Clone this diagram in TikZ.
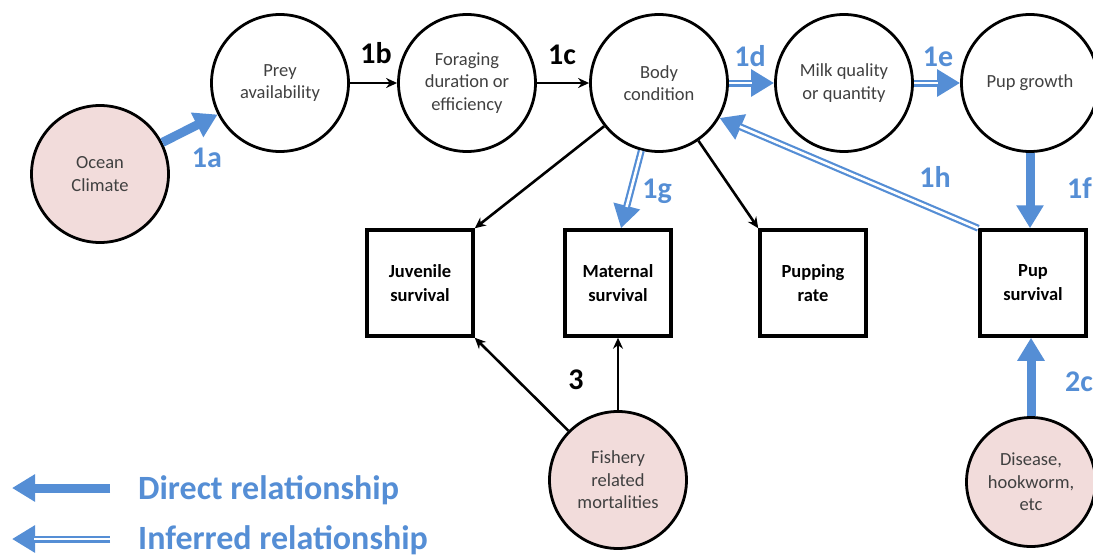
\documentclass[tikz,border=0pt]{standalone}
\usepackage{fontspec}
\setmainfont{Carlito}
\usetikzlibrary{arrows.meta}
\definecolor{myblue}{RGB}{85,142,213}
\definecolor{pinkfill}{RGB}{242,220,219}
\definecolor{txtgray}{RGB}{64,64,64}
\begin{document}
\begin{tikzpicture}[x=1pt,y=-1pt,
  circ/.style={circle, draw=black, line width=2.8pt, minimum size=137pt, inner sep=0pt, align=center, text=txtgray, font=\fontsize{18.5}{22.5}\selectfont},
  ext/.style={circ, fill=pinkfill},
  sbox/.style={rectangle, draw=black, line width=3.5pt, minimum width=106pt, minimum height=106pt, inner sep=0pt, align=center, font=\bfseries\fontsize{18.5}{24}\selectfont},
  thinarr/.style={draw=black, line width=2.6pt, -{Stealth[length=11pt,width=10pt]}},
  direct/.style={draw=myblue, line width=9pt, -{Triangle[length=23pt,width=26pt]}},
  inferred/.style={draw=myblue, line width=7pt, -{Triangle[length=23pt,width=26pt]}, postaction={draw=white, line width=2.6pt, -, shorten >=22pt}},
  lab/.style={font=\bfseries\fontsize{30}{36}\selectfont, inner sep=0pt},
  blab/.style={lab, text=myblue},
  legtext/.style={font=\bfseries\fontsize{34}{40}\selectfont, text=myblue, inner sep=0pt, anchor=base west},
]
\useasboundingbox (0,0) rectangle (1093,557);
\clip (0,0) rectangle (1093,557);

% nodes
\node[ext] (ocean) at (100,174) {Ocean\\Climate};
\node[circ] (prey) at (280,83) {Prey\\availability};
\node[circ] (forage) at (467,83) {Foraging\\duration or\\efficiency};
\node[circ] (body) at (659,83) {Body\\condition};
\node[circ] (milk) at (844,83) {Milk quality\\or quantity};
\node[circ] (growth) at (1030,83) {Pup growth};
\node[sbox] (juv) at (420,283) {Juvenile\\survival};
\node[sbox] (mat) at (618,283) {Maternal\\survival};
\node[sbox] (rate) at (813,283) {Pupping\\rate};
\node[sbox] (psurv) at (1033,283) {Pup\\survival};
\node[ext] (fish) at (618,480) {Fishery\\related\\mortalities};
\node[ext, minimum size=129pt] (dis) at (1031,482) {Disease,\\hookworm,\\etc};

% connectors
\draw[direct] (ocean) -- (prey);
\draw[thinarr] (prey) -- (forage);
\draw[thinarr] (forage) -- (body);
\draw[inferred] (body) -- (milk);
\draw[inferred] (milk) -- (growth);
\draw[direct] (growth) -- (growth.south |- psurv.north);
\draw[inferred] (body) -- ([xshift=3pt]mat.north);
\draw[inferred] (psurv.north west) -- (body.-30);
\draw[thinarr] (body) -- (juv.north east);
\draw[thinarr] (body) -- (rate.north west);
\draw[thinarr] (fish) -- (juv.south east);
\draw[thinarr] (fish) -- (mat.south);
\draw[direct] (dis) -- (dis.north |- psurv.south);

% labels
\node[blab, anchor=base] (l1a) at (207,167) {1a};
\node[lab, anchor=base] (l1b) at (376,63) {1b};
\node[lab, anchor=base] (l1c) at (562,64) {1c};
\node[blab, anchor=base] (l1d) at (750,66) {1d};
\node[blab, anchor=base] (l1e) at (938,66) {1e};
\node[blab, anchor=base west] (l1f) at (1067,198) {1f};
\node[blab, anchor=base] (l1g) at (657,198) {1g};
\node[blab, anchor=base] (l1h) at (935,187) {1h};
\node[lab, anchor=base] (l3) at (576,389) {3};
\node[blab, anchor=base west] (l2c) at (1065,391) {2c};

% legend
\coordinate (d1) at (110,488);
\coordinate (d2) at (12,488);
\coordinate (i1) at (110,539);
\coordinate (i2) at (12,539);
\draw[direct] (d1) -- (d2);
\draw[inferred] (i1) -- (i2);
\node[legtext] (tdir) at (138,499) {Direct relationship};
\node[legtext] (tinf) at (138,549) {Inferred relationship};
\end{tikzpicture}
\end{document}
